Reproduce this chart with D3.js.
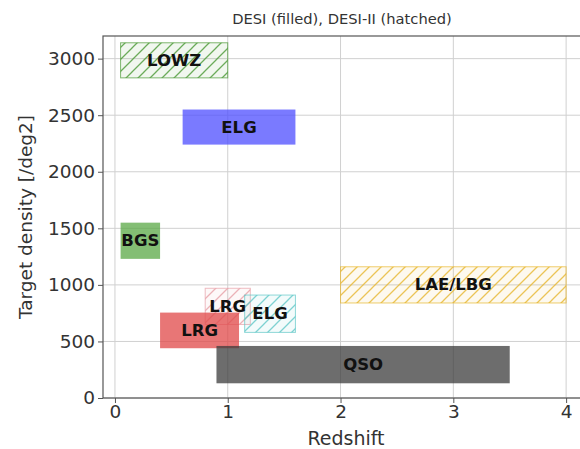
<!DOCTYPE html>
<html><head><meta charset="utf-8">
<script src="https://cdn.jsdelivr.net/npm/d3@7"></script>
<style>body{margin:0;background:#fff}svg{display:block}text{font-family:"DejaVu Sans",sans-serif}</style>
</head><body><svg id="c" width="580" height="449"></svg>
<script>
// Target classes: name, survey, z range, density range
const names     = ["LOWZ","ELG","BGS","LRG","LRG","ELG","QSO","LAE/LBG"];
const surveys   = ["DESI-II","DESI","DESI","DESI-II","DESI","DESI-II","DESI","DESI-II"];
const zMin      = [0.05, 0.6, 0.05, 0.8, 0.4, 1.15, 0.9, 2.0];
const zMax      = [1.0, 1.6, 0.4, 1.2, 1.1, 1.6, 3.5, 4.0];
const densMin   = [2830, 2240, 1230, 650, 440, 580, 130, 840];
const densMax   = [3140, 2550, 1550, 970, 755, 910, 460, 1160];
const colors    = ["#4a9a35","#4d4dff","#5aa845","#e8a0a8","#e04848","#60c8c8","#3c3c3c","#e8b830"];
const xTicks    = [0,1,2,3,4];
const yTicks    = [0,500,1000,1500,2000,2500,3000];

const svg = d3.select("#c");
const L=103, R=588, T=36, B=398;
const x = d3.scaleLinear().domain([-0.106, 4.194]).range([L, R]);
const y = d3.scaleLinear().domain([0, 3200]).range([B, T]);

const defs = svg.append("defs");
defs.append("clipPath").attr("id","clip").append("rect").attr("x",L).attr("y",T).attr("width",R-L).attr("height",B-T);

// grid
const g = svg.append("g");
g.selectAll(".gx").data(xTicks).join("line").attr("x1",d=>x(d)).attr("x2",d=>x(d)).attr("y1",T).attr("y2",B).attr("stroke","#d0d0d0").attr("stroke-width",1);
g.selectAll(".gy").data(yTicks).join("line").attr("x1",L).attr("x2",R).attr("y1",d=>y(d)).attr("y2",d=>y(d)).attr("stroke","#d0d0d0").attr("stroke-width",1);

// hatch patterns
const data = names.map((n,i)=>({n,s:surveys[i],x0:zMin[i],x1:zMax[i],y0:densMin[i],y1:densMax[i],c:colors[i],i}));
const hs = 12;
data.filter(d=>d.s==="DESI-II").forEach(d=>{
  const p = defs.append("pattern").attr("id","h"+d.i).attr("patternUnits","userSpaceOnUse").attr("width",hs).attr("height",hs);
  p.append("path").attr("d",`M-2,${hs+2} L${hs+2},-2 M-2,2 L2,-2 M${hs-2},${hs+2} L${hs+2},${hs-2}`).attr("stroke",d.c).attr("stroke-width",1.3).attr("opacity",0.8);
});

const marks = svg.append("g").attr("clip-path","url(#clip)");
data.forEach(d=>{
  const r = marks.append("rect").attr("x",x(d.x0)).attr("y",y(d.y1)).attr("width",x(d.x1)-x(d.x0)).attr("height",y(d.y0)-y(d.y1));
  if(d.s==="DESI"){
    r.attr("fill",d.c).attr("fill-opacity",0.75);
  } else {
    marks.append("rect").attr("x",x(d.x0)).attr("y",y(d.y1)).attr("width",x(d.x1)-x(d.x0)).attr("height",y(d.y0)-y(d.y1)).attr("fill",d.c).attr("fill-opacity",0.08);
    r.attr("fill","url(#h"+d.i+")").attr("stroke",d.c).attr("stroke-opacity",0.7).attr("stroke-width",1);
  }
});
marks.selectAll(".lbl").data(data).join("text")
  .attr("x",d=>x((d.x0+d.x1)/2)).attr("y",d=>y((d.y0+d.y1)/2))
  .attr("text-anchor","middle").attr("dominant-baseline","central")
  .attr("font-size",16.5).attr("font-weight","bold").attr("fill","#111").text(d=>d.n);

// frame
svg.append("rect").attr("x",L).attr("y",T).attr("width",R-L).attr("height",B-T).attr("fill","none").attr("stroke","#555").attr("stroke-width",1.2);

// axes
const xa = svg.append("g").attr("transform",`translate(0,${B})`).call(d3.axisBottom(x).tickValues(xTicks).tickFormat(d3.format("d")).tickSize(5).tickPadding(2));
const ya = svg.append("g").attr("transform",`translate(${L},0)`).call(d3.axisLeft(y).tickValues(yTicks).tickFormat(d3.format("d")).tickSize(5).tickPadding(3));
[xa,ya].forEach(a=>{a.select(".domain").remove();a.selectAll("line").attr("stroke","#555");a.selectAll("text").attr("font-size",18.5).attr("fill","#333").attr("font-family","DejaVu Sans");});

svg.append("text").attr("x",346).attr("y",445).attr("text-anchor","middle").attr("font-size",19).attr("fill","#333").text("Redshift");
svg.append("text").attr("transform",`translate(32,${(T+B)/2}) rotate(-90)`).attr("text-anchor","middle").attr("font-size",18.5).attr("fill","#333").text("Target density [/deg2]");
svg.append("text").attr("x",342).attr("y",24).attr("text-anchor","middle").attr("font-size",14.7).attr("fill","#333").text("DESI (filled), DESI-II (hatched)");
</script></body></html>
